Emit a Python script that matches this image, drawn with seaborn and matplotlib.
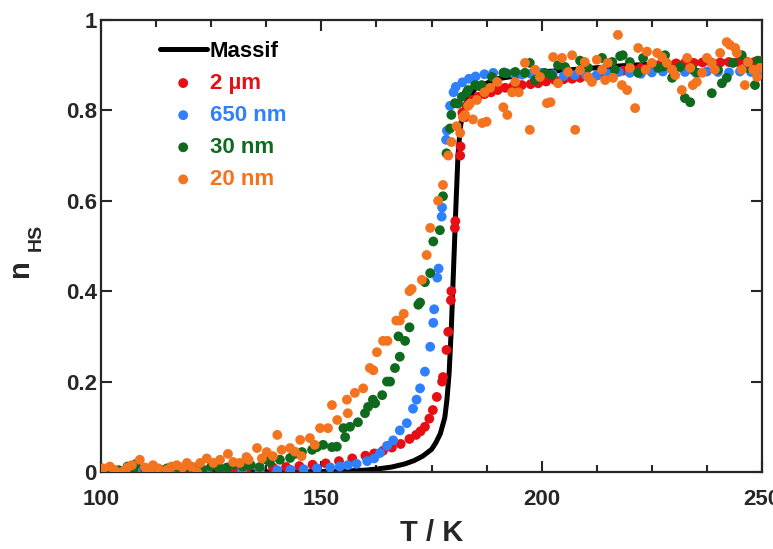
import numpy as np
import pandas as pd
import matplotlib
matplotlib.use("Agg")
import matplotlib.pyplot as plt
from matplotlib.ticker import MultipleLocator, FuncFormatter
import seaborn as sns

# bulk sample
massif_T = [100, 120, 140, 150, 155, 160, 163, 166, 169, 171, 173, 175, 176, 177, 178,
            178.5, 179, 179.5, 180, 180.5, 181, 181.5, 182, 183, 185, 190, 200, 220, 250]
massif_n = [0, 0, 0, 0.001, 0.002, 0.004, 0.007, 0.011, 0.018, 0.025, 0.035, 0.05, 0.065,
            0.085, 0.12, 0.16, 0.22, 0.32, 0.45, 0.58, 0.70, 0.76, 0.79, 0.82, 0.85, 0.87,
            0.885, 0.90, 0.91]

# 2 um
red_T = [100, 103, 106, 109, 112, 115, 118, 121, 124, 127, 130, 133, 136, 139, 142, 145,
         148, 151, 154, 157, 160, 162, 164, 166, 168, 170, 171.5, 172.5, 173.5, 174.5,
         175.3, 176.2, 177.4, 177.6, 178.4, 178.8, 179.4, 179.5, 180.3, 180.4, 181.5,
         181.6, 182.6, 182, 183, 184.2, 185.5, 187, 188.5, 190, 191.7, 193.5, 195.5, 197.5,
         199.2, 201, 203, 205, 206.9, 208.7, 210.5, 212.5, 214.5, 216.5, 218.5, 220.5,
         222.5, 224.5, 226.5, 228.5, 230.5, 232.5, 234.5, 236.5, 238.5, 240.5, 242.5,
         244.5, 246.5, 248.5, 250]
red_n = [0.0, 0.0, 0.0, 0.0, 0.001, 0.001, 0.002, 0.003, 0.004, 0.005, 0.006, 0.007, 0.008,
         0.01, 0.011, 0.013, 0.016, 0.019, 0.024, 0.03, 0.036, 0.041, 0.047, 0.054, 0.062,
         0.073, 0.082, 0.09, 0.1, 0.118, 0.137, 0.166, 0.2, 0.21, 0.27, 0.31, 0.38, 0.4,
         0.54, 0.555, 0.70, 0.72, 0.785, 0.795, 0.81, 0.823, 0.83, 0.836, 0.84, 0.845, 0.85,
         0.853, 0.856, 0.858, 0.86, 0.864, 0.867, 0.869, 0.87, 0.872, 0.874, 0.877, 0.88,
         0.884, 0.888, 0.891, 0.894, 0.897, 0.9, 0.902, 0.904, 0.905, 0.905, 0.906, 0.906,
         0.906, 0.907, 0.907, 0.908, 0.908, 0.909]

# 650 nm
blue_T = [100, 104, 108, 112, 116, 120, 124, 128, 132, 136, 140, 143, 146, 149, 152, 154.2,
          156, 158, 160.4, 162, 163.3, 164.9, 166.3, 167.8, 169.4, 170.8, 171.6, 172.4,
          173.5, 174.7, 175.4, 175.6, 176.3, 176.6, 177.3, 177.4, 178.3, 178.5, 179.2, 180,
          180.5, 182, 183.5, 185, 187, 189, 191.5, 193.5, 195.5, 197.5, 200, 202.5, 205,
          207.5, 210, 212.5, 215, 217.5, 220, 222.5, 225, 227.5, 230, 232.5, 235, 237.5,
          240, 242.5, 245, 247.5, 250]
blue_n = [0.0, 0.0, 0.0, 0.0, 0.0, 0.0, 0.001, 0.001, 0.002, 0.003, 0.004, 0.005, 0.006,
          0.008, 0.01, 0.012, 0.015, 0.018, 0.024, 0.03, 0.042, 0.058, 0.07, 0.092, 0.108,
          0.14, 0.16, 0.185, 0.222, 0.277, 0.33, 0.36, 0.43, 0.45, 0.565, 0.585, 0.735,
          0.755, 0.81, 0.84, 0.852, 0.862, 0.87, 0.875, 0.88, 0.883, 0.884, 0.882, 0.879,
          0.881, 0.883, 0.88, 0.876, 0.878, 0.879, 0.878, 0.882, 0.885, 0.883, 0.881, 0.884,
          0.886, 0.884, 0.885, 0.883, 0.886, 0.885, 0.884, 0.886, 0.885, 0.887]

# 30 nm
green_T = [100.5, 102, 104, 106, 107.3, 108, 110, 112, 114, 115, 117, 119, 121, 123, 125,
           127, 128.6, 130, 132.2, 134, 136, 137.6, 138.3, 140.6, 142.9, 144, 145.6, 147.9,
           149, 150.4, 152.4, 153.5, 155.4, 155, 156.5, 158.3, 159.9, 160.6, 161.7, 162.2,
           163.8, 164.9, 165.6, 166.7, 167.8, 169, 170, 167.5, 172, 172.4, 173.5, 174.7,
           175.4, 176.9, 177.6, 178.4, 179.2, 179.5, 180.3, 181, 181.9, 183, 183.3, 184.9,
           186, 186.4, 188.7, 191.3, 192, 194, 196.2, 197.3, 198.5, 200.7, 202.3, 203.7,
           205.3, 208.7, 209.1, 210.5, 213.7, 215, 216, 216.6, 217.8, 218.4, 220, 221.9, 223,
           226.4, 227.6, 228, 229.6, 231.4, 232.5, 233.7, 234.3, 235.4, 238.6, 240, 240.9,
           242, 243.4, 245.4, 246.8, 248.4, 249.1, 250]
green_n = [0.003, 0.008, 0.004, 0.012, 0.005, 0.018, 0.006, 0.01, 0.004, 0.008, 0.012, 0.006,
           0.01, 0.005, 0.012, 0.008, 0.01, 0.016, 0.012, 0.015, 0.011, 0.027, 0.022, 0.027,
           0.031, 0.04, 0.044, 0.049, 0.055, 0.06, 0.055, 0.056, 0.077, 0.097, 0.1, 0.11,
           0.13, 0.144, 0.16, 0.152, 0.17, 0.2, 0.2, 0.23, 0.255, 0.29, 0.32, 0.30, 0.37,
           0.375, 0.42, 0.44, 0.51, 0.535, 0.61, 0.705, 0.76, 0.79, 0.816, 0.815, 0.83, 0.84,
           0.845, 0.856, 0.853, 0.856, 0.874, 0.883, 0.882, 0.885, 0.883, 0.905, 0.867,
           0.883, 0.878, 0.9, 0.896, 0.91, 0.907, 0.894, 0.916, 0.905, 0.907, 0.89, 0.92,
           0.922, 0.907, 0.883, 0.916, 0.894, 0.897, 0.922, 0.872, 0.896, 0.827, 0.818, 0.89,
           0.883, 0.838, 0.89, 0.86, 0.872, 0.905, 0.922, 0.894, 0.856, 0.91, 0.905]

# 20 nm
orange_T = [100.5, 102, 103, 104.8, 106, 107, 108.8, 110, 111, 111.8, 113, 115, 116, 117.2,
            118.5, 119.5, 120.5, 121.8, 122.5, 124, 125.5, 127, 128.8, 130, 131.5, 133,
            133.5, 135.4, 136.5, 137.6, 139, 140, 141, 142.9, 144, 145.2, 145.5, 147.4,
            148.5, 149.7, 151.5, 152.4, 153.6, 155.8, 156, 157.6, 159.5, 161, 161.8, 162.6,
            164, 165, 167, 167.8, 168.7, 170, 170.5, 172.8, 173.9, 174.7, 176.5, 177.6,
            178.8, 179.5, 180.7, 181.5, 182.1, 182.6, 183.3, 183.7, 184.4, 185.3, 186.5, 187,
            187.5, 188.3, 189.9, 191.3, 192.2, 193.3, 194, 194.8, 196.2, 197.3, 198.5, 199.6,
            201.2, 202, 202.6, 203.7, 204.6, 206, 206.9, 207.6, 208.7, 209.8, 210.5, 211.4,
            212.5, 213.7, 214.4, 215, 216.2, 217.3, 218.2, 219.4, 220, 221.2, 221.9, 223.6,
            223.9, 225, 226.2, 227.3, 228.4, 229.6, 230.3, 231.8, 233, 233.7, 234.3, 235.2,
            236.4, 237.5, 238.6, 239.3, 240.5, 242, 242.7, 243.9, 244.3, 245.4, 246.1, 246.8,
            248, 248.9, 249.5]
orange_n = [0.008, 0.012, 0.005, 0.0, 0.01, 0.015, 0.027, 0.01, 0.0, 0.015, 0.008, 0.005,
            0.012, 0.015, 0.01, 0.02, 0.012, 0.0, 0.02, 0.03, 0.02, 0.027, 0.04, 0.022, 0.02,
            0.033, 0.027, 0.053, 0.03, 0.044, 0.035, 0.082, 0.049, 0.053, 0.045, 0.071, 0.035,
            0.075, 0.06, 0.097, 0.097, 0.148, 0.115, 0.16, 0.13, 0.175, 0.185, 0.23, 0.225,
            0.265, 0.29, 0.29, 0.335, 0.335, 0.35, 0.40, 0.405, 0.425, 0.48, 0.54, 0.60, 0.635,
            0.70, 0.73, 0.765, 0.75, 0.785, 0.79, 0.81, 0.815, 0.78, 0.823, 0.772, 0.84, 0.775,
            0.85, 0.863, 0.807, 0.79, 0.84, 0.863, 0.84, 0.905, 0.757, 0.89, 0.874, 0.816,
            0.818, 0.918, 0.86, 0.916, 0.885, 0.922, 0.757, 0.889, 0.907, 0.874, 0.863, 0.912,
            0.89, 0.867, 0.905, 0.872, 0.967, 0.856, 0.845, 0.894, 0.805, 0.938, 0.89, 0.93,
            0.905, 0.927, 0.918, 0.905, 0.89, 0.878, 0.845, 0.916, 0.894, 0.856, 0.863, 0.883,
            0.916, 0.905, 0.89, 0.927, 0.951, 0.945, 0.938, 0.927, 0.89, 0.856, 0.907, 0.89,
            0.874, 0.894]

labels = ["Massif", "2 µm", "650 nm", "30 nm", "20 nm"]
colors = ["black", "#e60f14", "#2f80ff", "#0f6a1e", "#f4731f"]

sns.set_style("ticks")
plt.rcParams["font.family"] = ["Liberation Sans", "DejaVu Sans"]
plt.rcParams["font.weight"] = "bold"

fig = plt.figure(figsize=(7.73, 5.49), dpi=100)
ax = fig.add_axes([0.1307, 0.1403, 0.8551, 0.8233])

sns.lineplot(x=massif_T, y=massif_n, ax=ax, color=colors[0], linewidth=3.6,
             label=labels[0], zorder=2)
series = [(red_T, red_n), (blue_T, blue_n), (green_T, green_n), (orange_T, orange_n)]
for (t, n), lab, col in zip(series, labels[1:], colors[1:]):
    sns.scatterplot(x=t, y=n, ax=ax, color=col, s=50, edgecolor="none",
                    label=lab, zorder=3)

ax.set_xlim(100, 250)
ax.set_ylim(0, 1)
ax.xaxis.set_major_locator(MultipleLocator(50))
ax.xaxis.set_minor_locator(MultipleLocator(12.5))
ax.yaxis.set_major_locator(MultipleLocator(0.2))
ax.yaxis.set_major_formatter(FuncFormatter(lambda v, p: f"{v:g}"))
ax.tick_params(which="both", direction="in", top=True, right=True, width=1.5,
               labelsize=16)
ax.tick_params(axis="x", which="both", pad=12)
ax.tick_params(axis="y", which="both", pad=3)
ax.tick_params(which="major", length=8)
ax.tick_params(which="minor", length=5)
for sp in ax.spines.values():
    sp.set_linewidth(1.6)

ax.set_xlabel("T / K", fontsize=21, fontweight="bold", labelpad=7)
ax.text(-0.1225, 0.451, "n", transform=ax.transAxes, rotation=90, fontsize=21,
        fontweight="bold", ha="center", va="center")
ax.text(-0.098, 0.52, "HS", transform=ax.transAxes, rotation=90, fontsize=14,
        fontweight="bold", ha="center", va="center")

leg = ax.legend(loc="upper left", bbox_to_anchor=(0.089, 0.954), frameon=False,
                fontsize=16, handlelength=2.1, handletextpad=0.15, labelspacing=0.5,
                borderpad=0, borderaxespad=0, markerscale=1.0)
for txt, col in zip(leg.get_texts(), colors):
    txt.set_color(col)
    txt.set_fontweight("bold")

fig.savefig("out.png", dpi=100)
